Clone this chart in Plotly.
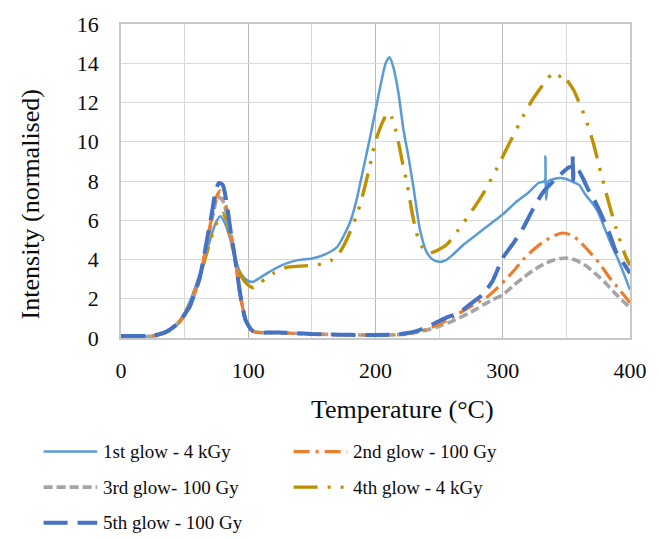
import plotly.graph_objects as go

# ---- glow curve data: temperature (°C) and normalised intensity ----
t1 = [0, 10, 20, 25, 30, 35, 40, 45, 50, 55, 60, 65, 70, 74, 78, 82, 86, 90, 94, 98, 103,
      110, 120, 130, 140, 150, 160, 170, 180, 185, 190, 195, 200, 205, 208, 211, 214, 218,
      222, 226, 230, 235, 240, 245, 250, 255, 260, 270, 280, 290, 300, 310, 320, 328, 333,
      333.5, 334, 336, 340, 345, 350, 355, 360, 365, 370, 375, 380, 385, 390, 395, 400]
glow1 = [0.08, 0.08, 0.08, 0.1, 0.15, 0.25, 0.45, 0.8, 1.3, 2.0, 2.9, 3.9, 5.0, 5.8, 6.2, 5.8,
         5.0, 4.0, 3.3, 3.0, 2.85, 3.1, 3.5, 3.8, 3.98, 4.05, 4.25, 4.65, 5.9, 7.0, 8.5, 10.0,
         11.6, 13.2, 14.0, 14.3, 13.8, 12.5, 10.6, 9.2, 7.6, 5.5, 4.4, 4.0, 3.88, 3.95, 4.2,
         4.8, 5.3, 5.8, 6.3, 6.9, 7.4, 7.9, 8.0, 9.25, 7.05, 8.0, 8.1, 8.15, 8.1, 7.95, 7.8,
         7.3, 6.9, 6.4, 5.6, 4.8, 4.1, 3.3, 2.45]

t2 = [0, 10, 20, 25, 30, 35, 40, 46, 50, 54, 58, 62, 67, 72, 75, 78, 81, 84, 87, 90, 94, 98,
      103, 107, 115, 125, 135, 150, 165, 180, 200, 215, 225, 232, 240, 248, 256, 264, 272,
      280, 288, 295, 302, 309, 316, 324, 332, 340, 347, 354, 360, 368, 376, 384, 390, 395, 400]
glow2 = [0.08, 0.08, 0.08, 0.1, 0.18, 0.3, 0.5, 0.8, 1.2, 1.6, 2.3, 3.1, 4.7, 6.4, 7.2, 7.5,
         7.1, 6.3, 5.1, 3.9, 2.1, 0.9, 0.38, 0.28, 0.28, 0.27, 0.24, 0.2, 0.18, 0.16, 0.15,
         0.16, 0.22, 0.3, 0.45, 0.65, 0.9, 1.2, 1.5, 1.8, 2.1, 2.5, 2.95, 3.45, 4.0, 4.5, 4.9,
         5.2, 5.35, 5.25, 4.95, 4.4, 3.8, 3.07, 2.6, 2.2, 1.8]

t3 = [0, 10, 20, 25, 30, 35, 40, 46, 50, 54, 58, 62, 67, 72, 76, 80, 84, 87, 90, 94, 98, 103,
      110, 120, 135, 150, 165, 180, 200, 215, 225, 240, 250, 260, 270, 280, 285, 292, 300,
      308, 316, 324, 332, 340, 350, 358, 366, 373.5, 380, 389, 395, 400]
glow3 = [0.08, 0.08, 0.08, 0.1, 0.18, 0.3, 0.5, 0.8, 1.2, 1.6, 2.3, 3.1, 4.6, 6.2, 7.2, 7.0,
         6.0, 5.0, 3.9, 2.1, 0.9, 0.35, 0.28, 0.27, 0.24, 0.2, 0.18, 0.16, 0.15, 0.16, 0.2,
         0.4, 0.6, 0.85, 1.15, 1.5, 1.7, 1.95, 2.2, 2.65, 3.07, 3.45, 3.75, 3.97, 4.08, 3.95,
         3.65, 3.24, 2.85, 2.23, 1.85, 1.55]

t4 = [0, 10, 20, 25, 30, 35, 40, 45, 50, 55, 60, 65, 70, 74, 78, 80, 83, 86, 90, 94, 97, 100,
      104, 110, 115, 120, 125, 130, 140, 150, 160, 165, 170, 175, 180, 186, 190, 195, 199,
      203, 207, 210, 213, 217, 221, 225, 229, 232, 236, 240, 243, 248, 256, 265, 277, 285,
      295, 305, 316, 322, 329, 335, 339, 343, 347, 351, 356, 360, 365, 371, 376, 381, 385,
      389, 393, 397, 400]
glow4 = [0.08, 0.08, 0.08, 0.1, 0.15, 0.25, 0.45, 0.75, 1.2, 1.9, 2.8, 3.8, 4.9, 5.7, 6.2,
         6.35, 6.0, 5.1, 3.9, 3.2, 2.9, 2.7, 2.57, 2.85, 3.1, 3.3, 3.45, 3.6, 3.66, 3.7, 3.8,
         3.95, 4.2, 4.7, 5.4, 6.4, 7.3, 8.6, 9.8, 10.6, 11.2, 11.5, 11.2, 10.3, 9.0, 7.8, 6.3,
         5.4, 4.7, 4.4, 4.33, 4.45, 4.76, 5.5, 6.6, 7.4, 8.6, 9.9, 11.3, 12.0, 12.67, 13.2,
         13.45, 13.25, 13.45, 13.1, 12.6, 12.0, 11.2, 9.97, 8.7, 7.45, 6.5, 5.6, 4.8, 4.1, 3.7]

t5 = [0, 10, 20, 25, 30, 35, 40, 46, 50, 54, 58, 62, 67, 72, 74, 77, 80, 83, 86, 90, 94, 98,
      103, 107, 115, 125, 135, 150, 165, 180, 200, 215, 225, 232, 240, 248, 256, 264, 270,
      277, 284, 292, 300, 308, 316, 324, 332, 340, 347.5, 352, 354.6, 355, 355.4, 356, 360,
      364, 368, 373, 378.7, 384, 389, 395, 400]
glow5 = [0.1, 0.1, 0.1, 0.12, 0.2, 0.3, 0.5, 0.8, 1.2, 1.6, 2.3, 3.1, 4.8, 6.6, 7.4, 7.9, 7.8,
         6.9, 5.5, 3.9, 2.1, 0.9, 0.38, 0.27, 0.28, 0.28, 0.25, 0.2, 0.18, 0.16, 0.15, 0.17,
         0.25, 0.35, 0.55, 0.8, 1.05, 1.25, 1.5, 1.85, 2.2, 2.9, 4.08, 4.8, 5.6, 6.6, 7.45,
         8.0, 8.46, 8.7, 8.75, 9.3, 8.05, 8.7, 8.5, 8.0, 7.45, 6.9, 6.1, 5.3, 4.4, 3.8, 3.3]

names = ["1st glow - 4 kGy", "2nd glow - 100 Gy", "3rd glow- 100 Gy",
         "4th glow - 4 kGy", "5th glow - 100 Gy"]
xs = [t1, t2, t3, t4, t5]
ys = [glow1, glow2, glow3, glow4, glow5]

x_ticks = [0, 100, 200, 300, 400]
y_ticks = [0, 2, 4, 6, 8, 10, 12, 14, 16]

# line styles per series (colour, width, dash pattern)
styles = [
    ("#5B9BD5", 2.5, "solid"),
    ("#ED7D31", 3.2, "16px,6px,3px,6px"),
    ("#A5A5A5", 3.6, "9px,4px"),
    ("#BF9000", 3.4, "24px,10px,3px,10px,3px,10px"),
    ("#4472C4", 4.0, "24px,10px"),
]

FONT = "Liberation Serif"
TEXT = "#0d0d0d"
W, H = 659, 539
ML, MR, MT, MB = 121, 25, 20, 201
PW, PH = W - ML - MR, H - MT - MB

fig = go.Figure()
# draw order: 1st, 4th, 3rd, 2nd, 5th so the thick dashed lines sit on top
for i in [0, 3, 2, 1, 4]:
    c, w, d = styles[i]
    fig.add_trace(go.Scatter(
        x=xs[i], y=ys[i], mode="lines", name=names[i], showlegend=False,
        line=dict(color=c, width=w, dash=d, shape="spline", smoothing=0.6),
    ))


def px_x(p):
    return (p - ML) / PW


def px_y(p):
    return (H - MB - p) / PH


# legend: two columns of line samples with labels
legend_pos = [(43, 453), (295, 453), (43, 489), (295, 489), (43, 525)]
shapes = []
annotations = []
for i, (lx, ly) in enumerate(legend_pos):
    c, w, d = styles[i]
    shapes.append(dict(
        type="line", xref="paper", yref="paper",
        x0=px_x(lx), x1=px_x(lx + 54), y0=px_y(ly), y1=px_y(ly),
        line=dict(color=c, width=w, dash=d),
    ))
    annotations.append(dict(
        text=names[i], xref="paper", yref="paper",
        x=px_x(lx + 58), y=px_y(ly), xanchor="left", yanchor="middle",
        showarrow=False, font=dict(family=FONT, size=19, color=TEXT),
    ))

# axis titles
annotations.append(dict(
    text="Temperature (°C)", xref="paper", yref="paper",
    x=px_x(405), y=px_y(410), xanchor="center", yanchor="middle",
    showarrow=False, font=dict(family=FONT, size=26, color=TEXT),
))
annotations.append(dict(
    text="Intensity (normalised)", xref="paper", yref="paper",
    x=px_x(30), y=px_y(203), xanchor="center", yanchor="middle", textangle=-90,
    showarrow=False, font=dict(family=FONT, size=26, color=TEXT),
))

fig.update_layout(
    width=W, height=H,
    margin=dict(l=ML, r=MR, t=MT, b=MB, pad=0),
    paper_bgcolor="white", plot_bgcolor="white",
    font=dict(family=FONT, size=22, color=TEXT),
    shapes=shapes, annotations=annotations,
    showlegend=False,
)
fig.update_xaxes(
    range=[0, 400], tickvals=x_ticks, ticktext=[str(v) for v in x_ticks],
    showgrid=True, gridcolor="#B8B8B8", gridwidth=1.3,
    minor=dict(dtick=50, showgrid=True, gridcolor="#D9D9D9", gridwidth=1.3),
    showline=True, linecolor="#C8C8C8", linewidth=1.5, mirror=True,
    zeroline=False, ticks="outside", ticklen=12, tickcolor="rgba(0,0,0,0)",
    tickfont=dict(family=FONT, size=22, color=TEXT),
)
fig.update_yaxes(
    range=[0, 16], tickvals=y_ticks, ticktext=[str(v) for v in y_ticks],
    showgrid=True, gridcolor="#D9D9D9", gridwidth=1.3,
    showline=True, linecolor="#C8C8C8", linewidth=1.5, mirror=True,
    zeroline=False, ticks="outside", ticklen=16, tickcolor="rgba(0,0,0,0)",
    tickfont=dict(family=FONT, size=22, color=TEXT),
)

fig.write_html("out.html")
